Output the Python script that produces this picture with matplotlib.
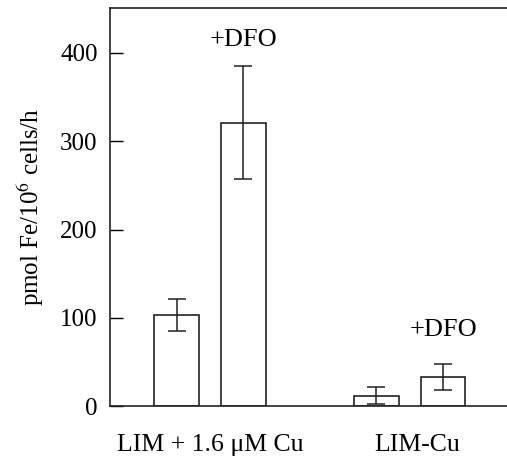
import matplotlib
matplotlib.use("Agg")
import matplotlib.pyplot as plt

# data
groups = ["LIM + 1.6 \u03bcM Cu", "LIM-Cu"]
group_pos = [0.5, 3.61]
bar_pos = [0, 1, 3, 4]
uptake = [103, 321, 12, 33]
err = [18, 64, 10, 15]
dfo_bars = [1, 3]  # indices of the +DFO bars

plt.rcParams["font.family"] = ["Liberation Serif", "DejaVu Serif"]
plt.rcParams["mathtext.fontset"] = "stix"

fig = plt.figure(figsize=(5.07, 4.61), dpi=100)
ax = fig.add_axes([0.217, 0.119, 0.783, 0.864])

ax.bar(bar_pos, uptake, width=0.67, color="white", edgecolor="#222222", linewidth=1.2)
ax.errorbar(bar_pos, uptake, yerr=err, fmt="none", ecolor="#222222",
            elinewidth=1.1, capsize=6.5, capthick=1.1)

# +DFO labels above the deferoxamine bars
ax.text(bar_pos[dfo_bars[0]], 415, "+DFO", ha="center", va="center", fontsize=19)
ax.text(bar_pos[dfo_bars[1]], 86, "+DFO", ha="center", va="center", fontsize=19)

ax.set_xlim(-1.0, 4.96)
ax.set_ylim(0, 451)
ax.set_yticks([0, 100, 200, 300, 400])
ax.tick_params(axis="y", direction="in", length=9, width=1, labelsize=18, pad=9)
ax.set_xticks(group_pos)
ax.set_xticklabels(groups)
ax.tick_params(axis="x", length=0, labelsize=18.5, pad=20)

ax.set_ylabel("pmol Fe/10$^{6}$ cells/h", fontsize=18, labelpad=10)

ax.spines["right"].set_visible(False)
for s in ["left", "bottom", "top"]:
    ax.spines[s].set_linewidth(1.2)
    ax.spines[s].set_color("#222222")

fig.savefig("out.png", dpi=100)
